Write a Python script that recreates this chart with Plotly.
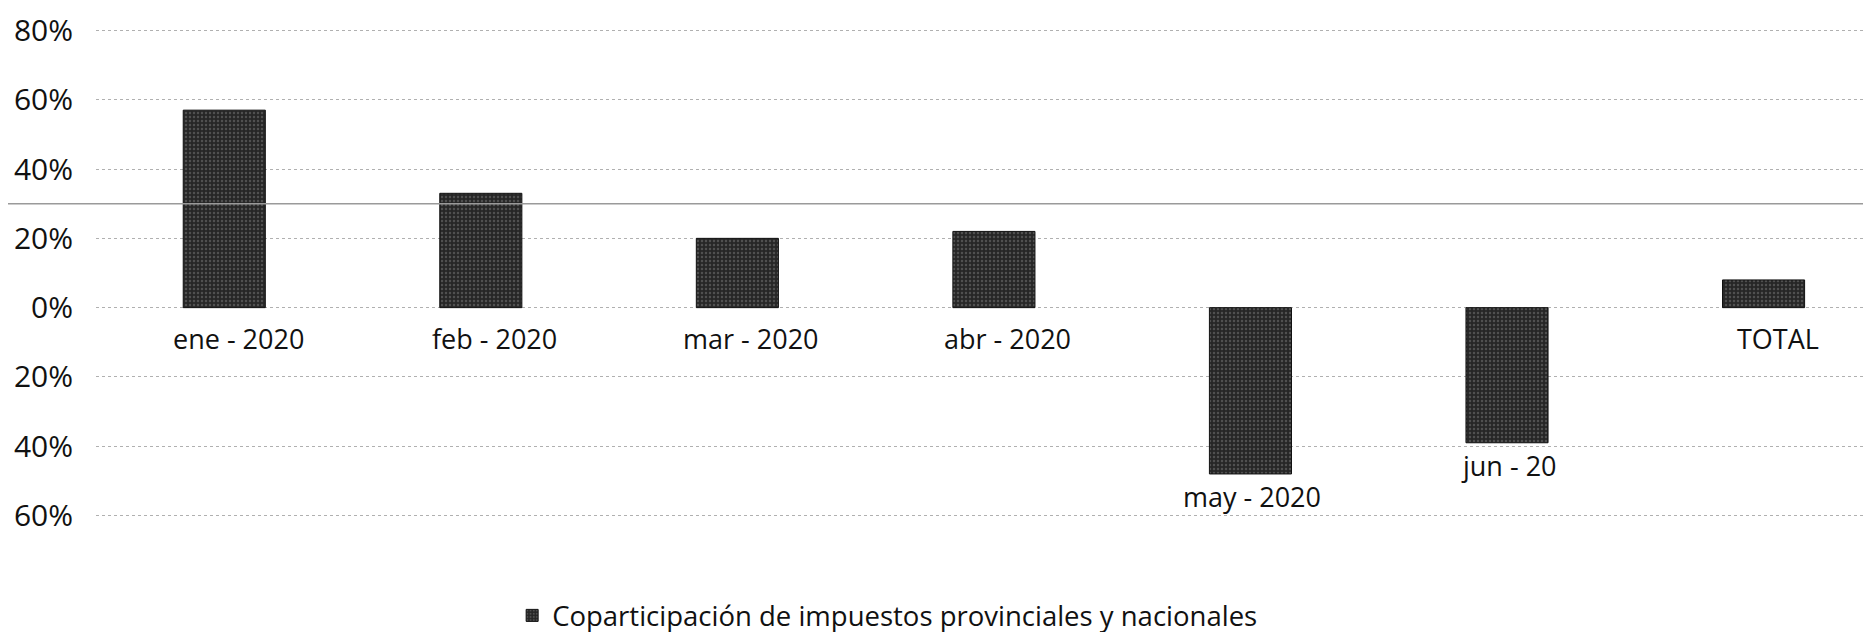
import plotly.graph_objects as go

categories = ["ene - 2020", "feb - 2020", "mar - 2020", "abr - 2020", "may - 2020", "jun - 20", "TOTAL"]
values = [57, 33, 20, 22, -48, -39, 8]
tick_values = [-60, -40, -20, 0, 20, 40, 60, 80]
tick_labels = ["60%", "40%", "20%", "0%", "20%", "40%", "60%", "80%"]
series_name = "Coparticipación de impuestos provinciales y nacionales"

FONT = "Open Sans"

fig = go.Figure()
fig.add_trace(go.Bar(
    x=categories, y=values, name=series_name,
    width=0.32,
    marker=dict(
        color="#2a2a2a",
        line=dict(color="#111111", width=1),
        pattern=dict(shape=".", bgcolor="#262626", fgcolor="#7a7a7a", size=4, solidity=0.3),
    ),
    showlegend=True,
))

for c, v in zip(categories, values):
    base = 0 if v >= 0 else v
    fig.add_annotation(
        x=c, y=base, text=c, showarrow=False,
        xanchor="center", yanchor="top",
        yshift=-10 if v >= 0 else -2,
        xshift=14 if v >= 0 else 2,
        font=dict(family=FONT, size=27, color="#111111"),
    )

# faint scanner line across the page
fig.add_shape(type="line", xref="paper", yref="y", x0=-0.06, x1=1.0, y0=30, y1=30,
              line=dict(color="#9a9a9a", width=1.5))

fig.update_layout(
    width=1871, height=632,
    margin=dict(l=88, r=0, t=19, b=107),
    paper_bgcolor="white", plot_bgcolor="white",
    font=dict(family=FONT, size=24, color="#111111"),
    legend=dict(orientation="h", x=0.444, xanchor="center", y=-0.197, yanchor="middle",
                font=dict(family=FONT, size=27.5, color="#111111"),
                itemwidth=30),
    showlegend=True,
)
fig.update_xaxes(showticklabels=False, showgrid=False, zeroline=False, showline=False,
                 range=[-0.5, 6.45])
fig.update_yaxes(range=[-61, 81], tickvals=tick_values, ticktext=tick_labels,
                 showgrid=True, gridcolor="#b0b0b0", griddash="dot", gridwidth=1,
                 zeroline=False, showline=False, ticks="", ticklabelstandoff=22,
                 tickfont=dict(family=FONT, size=30, color="#111111"))

fig.write_html("out.html")
